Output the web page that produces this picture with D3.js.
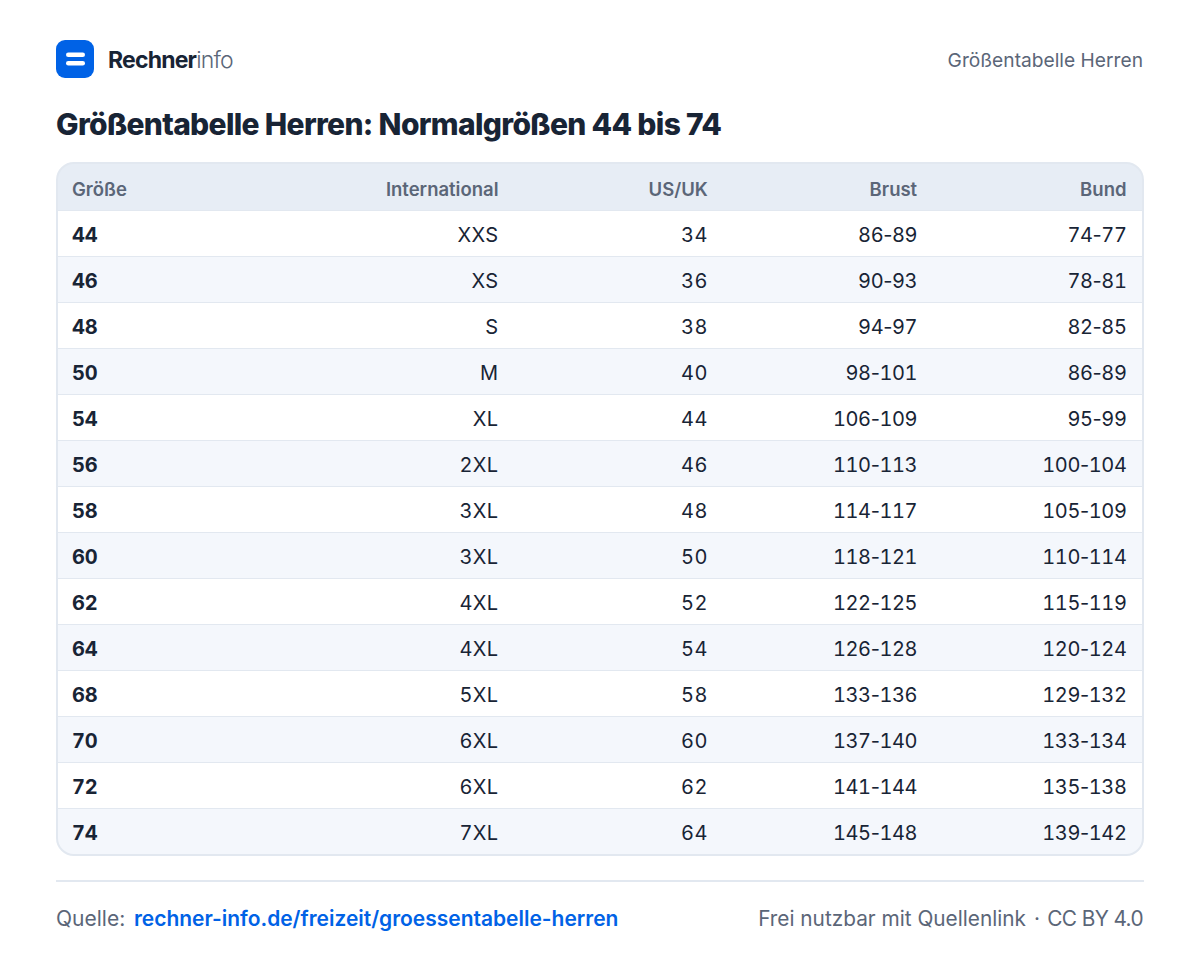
<!DOCTYPE html>
<html lang="de">
<head>
<meta charset="utf-8">
<title>Größentabelle Herren</title>
<script src="https://cdn.jsdelivr.net/npm/d3@7"></script>
<style>
  html, body { margin: 0; padding: 0; background: #fff; }
  svg { display: block; font-family: Inter, sans-serif; }
</style>
</head>
<body>
<svg id="chart" width="1200" height="960"></svg>
<script>
const columns = ["Größe", "International", "US/UK", "Brust", "Bund"];
const groesse = ["44", "46", "48", "50", "54", "56", "58", "60", "62", "64", "68", "70", "72", "74"];
const international = ["XXS", "XS", "S", "M", "XL", "2XL", "3XL", "3XL", "4XL", "4XL", "5XL", "6XL", "6XL", "7XL"];
const usUk = ["34", "36", "38", "40", "44", "46", "48", "50", "52", "54", "58", "60", "62", "64"];
const brust = ["86-89", "90-93", "94-97", "98-101", "106-109", "110-113", "114-117", "118-121", "122-125", "126-128", "133-136", "137-140", "141-144", "145-148"];
const bund = ["74-77", "78-81", "82-85", "86-89", "95-99", "100-104", "105-109", "110-114", "115-119", "120-124", "129-132", "133-134", "135-138", "139-142"];
const colValues = [groesse, international, usUk, brust, bund];

const svg = d3.select("#chart");
const dark = "#182435", grey = "#5b6678", blue = "#0062e6", line = "#e2e8f0", head = "#e7edf5", stripe = "#f4f7fc";

// row positions
const y = d3.scaleBand().domain(groesse).range([210.5, 854.5]);
// right edge of the numeric columns
const x = d3.scalePoint().domain(columns.slice(1)).range([498.5, 1126.5]);

// clip for the rounded table
svg.append("defs").append("clipPath").attr("id", "card")
  .append("rect").attr("x", 57).attr("y", 163).attr("width", 1086).attr("height", 692).attr("rx", 17);

const table = svg.append("g").attr("clip-path", "url(#card)");
table.append("rect").attr("x", 57).attr("y", 163).attr("width", 1086).attr("height", 47.5).attr("fill", head);

table.selectAll("rect.row")
  .data(groesse)
  .enter()
  .append("rect")
  .classed("row", true)
  .attr("x", 57)
  .attr("y", d => y(d))
  .attr("width", 1086)
  .attr("height", y.bandwidth())
  .attr("fill", (d, i) => i % 2 ? stripe : "#fff");

table.selectAll("line.sep")
  .data(groesse)
  .enter()
  .append("line")
  .classed("sep", true)
  .attr("x1", 57)
  .attr("x2", 1143)
  .attr("y1", d => y(d))
  .attr("y2", d => y(d))
  .attr("stroke", line)
  .attr("stroke-width", 1);

svg.append("rect")
  .attr("x", 57).attr("y", 163).attr("width", 1086).attr("height", 692).attr("rx", 17)
  .attr("fill", "none").attr("stroke", line).attr("stroke-width", 2);

// header
svg.selectAll("text.head")
  .data(columns)
  .enter()
  .append("text")
  .classed("head", true)
  .attr("x", (d, i) => i ? x(d) : 72)
  .attr("y", 189.5)
  .attr("dy", "0.35em")
  .attr("text-anchor", (d, i) => i ? "end" : "start")
  .attr("font-size", 18.5)
  .attr("font-weight", 600)
  .attr("fill", grey)
  .text(d => d);

// cells, digits are tabular but the hyphen keeps its normal width
colValues.forEach((vals, c) => {
  svg.selectAll("text.c" + c)
    .data(vals)
    .enter()
    .append("text")
    .attr("class", "c" + c)
    .attr("x", c ? x(columns[c]) : 72)
    .attr("y", (d, i) => y(groesse[i]) + y.bandwidth() / 2 + 1.5)
    .attr("dy", "0.36em")
    .attr("text-anchor", c ? "end" : "start")
    .attr("font-size", 20)
    .attr("font-weight", c ? 400 : 700)
    .attr("letter-spacing", c === 0 ? -0.2 : c > 2 ? -0.4 : 0.4)
    .attr("fill", dark)
    .each(function(d) {
      const t = d3.select(this);
      d.split(/(-)/).forEach(part => {
        t.append("tspan")
          .style("font-variant-numeric", part === "-" ? "normal" : "tabular-nums")
          .text(part);
      });
    });
});

// logo
svg.append("rect").attr("x", 56).attr("y", 40).attr("width", 38).attr("height", 38).attr("rx", 9).attr("fill", blue);
svg.append("rect").attr("x", 66).attr("y", 52.5).attr("width", 19).attr("height", 4.5).attr("rx", 2.25).attr("fill", "#fff");
svg.append("rect").attr("x", 66).attr("y", 61).attr("width", 19).attr("height", 4.5).attr("rx", 2.25).attr("fill", "#fff");

const brand = svg.append("text").attr("x", 108).attr("y", 68).attr("font-size", 23).attr("letter-spacing", -0.8);
brand.append("tspan").attr("font-weight", 700).attr("fill", dark).text("Rechner");
brand.append("tspan").attr("font-weight", 300).attr("fill", grey).text("info");

svg.append("text").attr("x", 1143).attr("y", 67).attr("text-anchor", "end")
  .attr("font-size", 19.2).attr("fill", grey).text("Größentabelle Herren");

svg.append("text").attr("x", 56).attr("y", 135)
  .attr("font-size", 30).attr("font-weight", 800).attr("letter-spacing", -0.67).attr("fill", dark)
  .text("Größentabelle Herren: Normalgrößen 44 bis 74");

// footer
svg.append("line").attr("x1", 56).attr("x2", 1144).attr("y1", 881).attr("y2", 881).attr("stroke", line).attr("stroke-width", 2);
svg.append("text").attr("x", 56).attr("y", 926).attr("font-size", 21).attr("fill", grey).text("Quelle:");
svg.append("text").attr("x", 134).attr("y", 926).attr("font-size", 20.96).attr("font-weight", 600).attr("fill", blue)
  .text("rechner-info.de/freizeit/groessentabelle-herren");
svg.append("text").attr("x", 1026).attr("y", 926).attr("text-anchor", "end").attr("font-size", 20.8).attr("fill", grey)
  .text("Frei nutzbar mit Quellenlink");
svg.append("text").attr("x", 1037).attr("y", 926).attr("text-anchor", "middle").attr("font-size", 20.8).attr("fill", grey)
  .text("·");
svg.append("text").attr("x", 1143).attr("y", 926).attr("text-anchor", "end").attr("font-size", 20.8).attr("letter-spacing", -0.6).attr("fill", grey)
  .text("CC BY 4.0");
</script>
</body>
</html>
